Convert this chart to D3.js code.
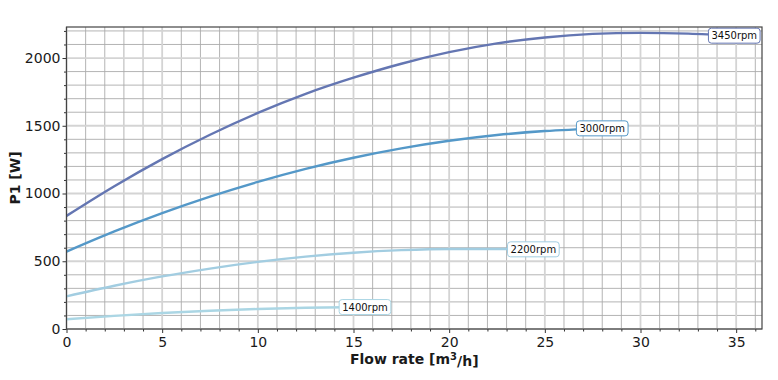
<!DOCTYPE html>
<html>
<head>
<meta charset="utf-8">
<script src="https://cdn.jsdelivr.net/npm/d3@7"></script>
<style>
	body { margin: 0; background: #fff; }
	svg { font-family: "DejaVu Sans", sans-serif; }
</style>
</head>
<body>
<svg class="chart" width="778" height="380"></svg>
<script>
// values
var speeds = ['3450rpm', '3000rpm', '2200rpm', '1400rpm'];
var flow3450 = [0, 2.5, 5, 7.5, 10, 12.5, 15, 17.5, 20, 22.5, 25, 27.5, 30, 32.5, 34.9];
var power3450 = [835, 1054, 1254, 1434, 1595, 1736, 1855, 1958, 2043, 2108, 2152, 2178, 2186, 2180, 2165];
var flow3000 = [0, 2.5, 5, 7.5, 10, 12.5, 15, 17.5, 20, 22.5, 25, 28];
var power3000 = [571, 720, 855, 977, 1086, 1182, 1264, 1333, 1389, 1432, 1461, 1481];
var flow2200 = [0, 2.5, 5, 7.5, 10, 12.5, 15, 17.5, 20, 22.5, 24.4];
var power2200 = [241, 319, 388, 446, 495, 534, 563, 582, 591, 591, 588];
var flow1400 = [0, 2.5, 5, 7.5, 10, 12.5, 15.6];
var power1400 = [72, 97, 118, 135, 148, 157, 162];
var colors = ['#6476b2', '#5498c8', '#a2cde1', '#abd6e4'];
var xTicks = [0, 5, 10, 15, 20, 25, 30, 35];
var yTicks = [0, 500, 1000, 1500, 2000];

var series = [
	{name: speeds[0], flow: flow3450, power: power3450, color: colors[0]},
	{name: speeds[1], flow: flow3000, power: power3000, color: colors[1]},
	{name: speeds[2], flow: flow2200, power: power2200, color: colors[2]},
	{name: speeds[3], flow: flow1400, power: power1400, color: colors[3]}
];

var margin = {top: 27, right: 16, bottom: 51, left: 66.5};
var width = 778 - margin.left - margin.right,
	height = 380 - margin.top - margin.bottom;

var x = d3.scaleLinear().domain([0, 36.35]).range([0, width]);
var y = d3.scaleLinear().domain([0, 2229]).range([height, 0]);

var chart = d3.select('.chart')
	.append('g')
	.attr('transform', 'translate(' + margin.left + ',' + margin.top + ')');

var xMinor = d3.range(0, 37, 1).filter(function(d){ return d % 5 !== 0 });
var yMinor = d3.range(0, 2201, 100).filter(function(d){ return d % 500 !== 0 });

// grid: minor first, majors lighter and wider
chart.append('g').selectAll('line')
	.data(xMinor).enter().append('line')
	.attr('x1', function(d){ return x(d) }).attr('x2', function(d){ return x(d) })
	.attr('y1', 0).attr('y2', height)
	.style('stroke', '#ababab').style('stroke-width', 0.9);
chart.append('g').selectAll('line')
	.data(yMinor).enter().append('line')
	.attr('x1', 0).attr('x2', width)
	.attr('y1', function(d){ return y(d) }).attr('y2', function(d){ return y(d) })
	.style('stroke', '#ababab').style('stroke-width', 0.9);
chart.append('g').selectAll('line')
	.data(xTicks).enter().append('line')
	.attr('x1', function(d){ return x(d) }).attr('x2', function(d){ return x(d) })
	.attr('y1', 0).attr('y2', height)
	.style('stroke', '#d4d4d4').style('stroke-width', 1.8);
chart.append('g').selectAll('line')
	.data(yTicks).enter().append('line')
	.attr('x1', 0).attr('x2', width)
	.attr('y1', function(d){ return y(d) }).attr('y2', function(d){ return y(d) })
	.style('stroke', '#d4d4d4').style('stroke-width', 1.8);

// axes
var xAxis = d3.axisBottom(x).tickValues(xTicks).tickSize(4).tickPadding(4);
var yAxis = d3.axisLeft(y).tickValues(yTicks).tickSize(4).tickPadding(2).tickFormat(d3.format('d'));

chart.append('g')
	.attr('class', 'x axis')
	.attr('transform', 'translate(0,' + height + ')')
	.call(xAxis);
chart.append('g')
	.attr('transform', 'translate(0,' + height + ')')
	.call(d3.axisBottom(x).tickValues(xMinor).tickSize(2.5).tickFormat(''));
chart.append('g')
	.attr('class', 'y axis')
	.call(yAxis);
chart.append('g')
	.call(d3.axisLeft(y).tickValues(yMinor).tickSize(2.5).tickFormat(''));

chart.selectAll('.domain').remove();
chart.selectAll('.tick line').style('stroke', '#333');
chart.selectAll('.axis .tick text')
	.style('font-family', '"DejaVu Sans", sans-serif')
	.style('font-size', '14px')
	.style('fill', '#1a1a1a');

// curves
var line = d3.line()
	.x(function(d){ return x(d[0]) })
	.y(function(d){ return y(d[1]) })
	.curve(d3.curveMonotoneX);

chart.selectAll('.curve')
	.data(series).enter()
	.append('path')
	.attr('class', 'curve')
	.attr('d', function(s){ return line(d3.zip(s.flow, s.power)) })
	.style('fill', 'none')
	.style('stroke', function(s){ return s.color })
	.style('stroke-width', 2.4);

// frame
chart.append('rect')
	.attr('width', width).attr('height', height)
	.style('fill', 'none').style('stroke', '#444').style('stroke-width', 1.2);

// inline labels at the end of each curve
var labels = chart.selectAll('.lbl')
	.data(series).enter()
	.append('g')
	.attr('class', 'lbl')
	.attr('transform', function(s){
		var n = s.flow.length - 1;
		return 'translate(' + x(s.flow[n]) + ',' + y(s.power[n]) + ')';
	});
labels.each(function(s){
	var g = d3.select(this);
	var t = g.append('text')
		.attr('text-anchor', 'middle')
		.attr('dy', '0.35em')
		.style('font-size', '10px')
		.style('fill', '#111')
		.text(s.name);
	var w = t.node().getComputedTextLength();
	g.insert('rect', 'text')
		.attr('x', -w / 2 - 3).attr('y', -7.5)
		.attr('width', w + 6).attr('height', 15)
		.attr('rx', 3)
		.style('fill', '#fff')
		.style('stroke', s.color)
		.style('stroke-width', 1);
});

// axis titles
chart.append('text')
	.attr('x', width / 2).attr('y', height + 35)
	.attr('text-anchor', 'middle')
	.style('font-size', '14px').style('font-weight', 'bold').style('fill', '#1a1a1a')
	.call(function(t){
		t.append('tspan').text('Flow rate [m');
		t.append('tspan').attr('dy', '-0.45em').style('font-size', '10px').text('3');
		t.append('tspan').attr('dy', '0.45em').text('/h]');
	});
chart.append('text')
	.attr('transform', 'translate(' + (-47) + ',' + (height / 2) + ') rotate(-90)')
	.attr('text-anchor', 'middle')
	.style('font-size', '14px').style('font-weight', 'bold').style('fill', '#1a1a1a')
	.text('P1 [W]');
</script>
</body>
</html>
